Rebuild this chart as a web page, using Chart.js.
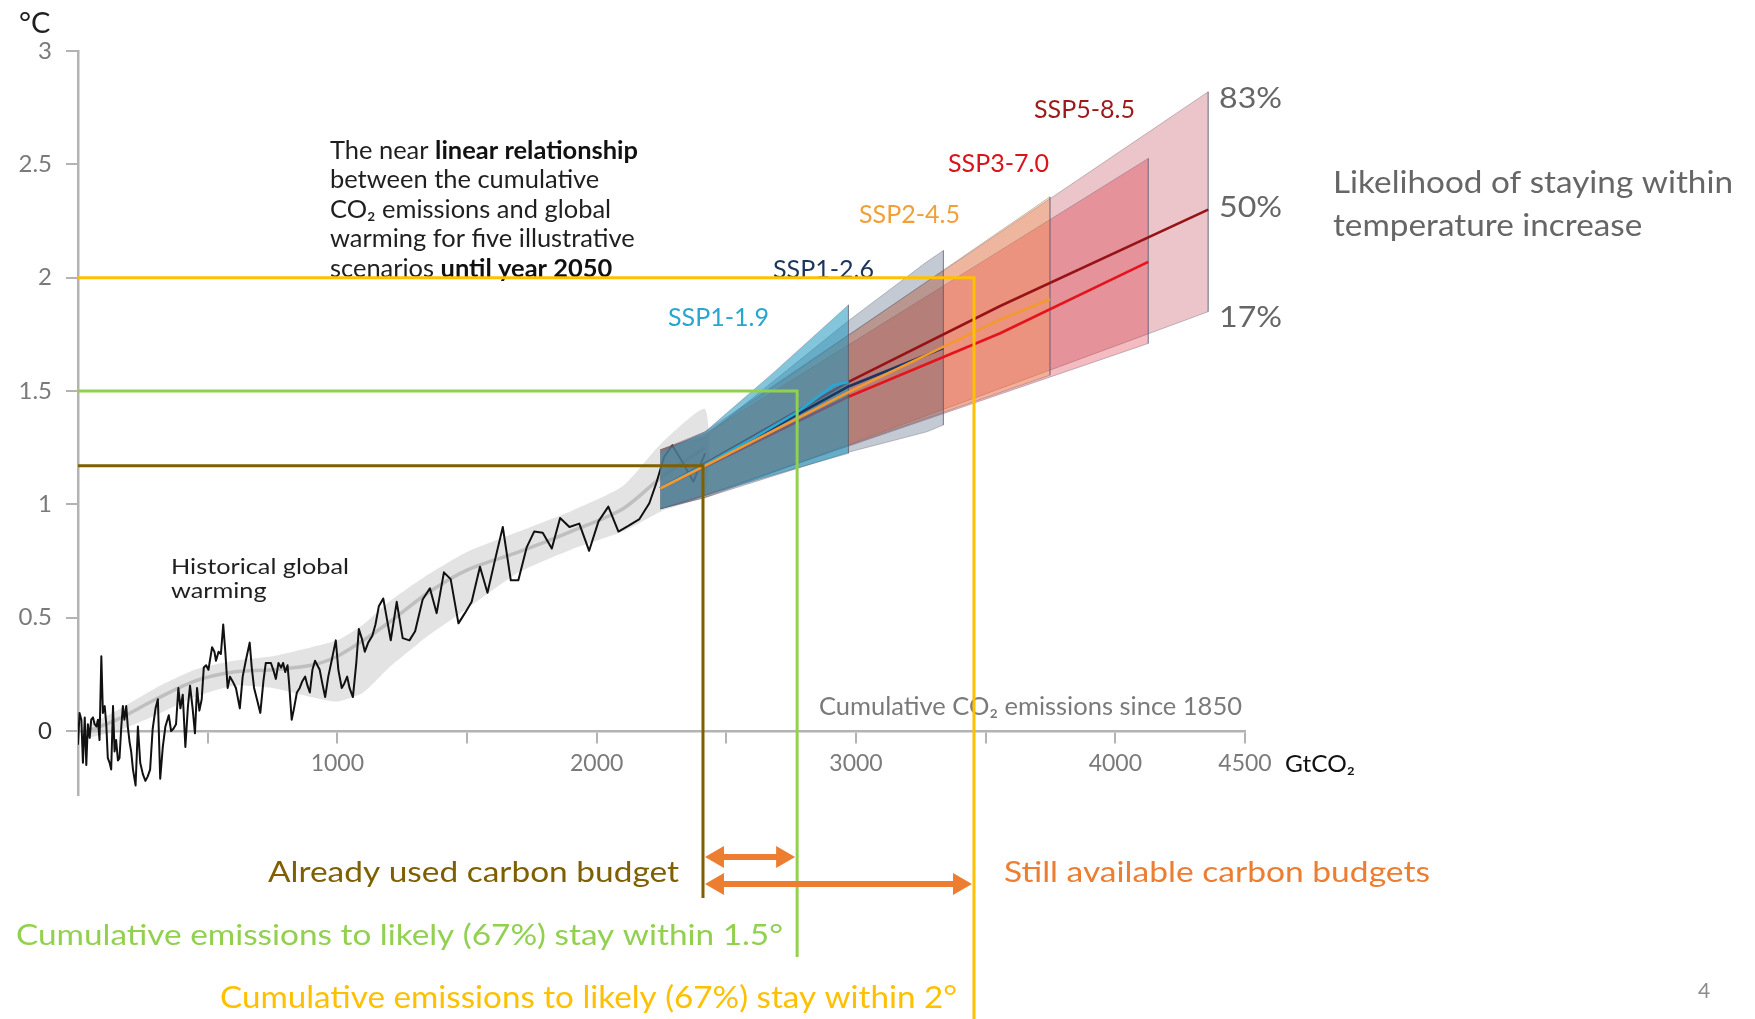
<!DOCTYPE html>
<html>
<head>
<meta charset="utf-8">
<script src="https://cdn.jsdelivr.net/npm/chart.js@4.4.1/dist/chart.umd.min.js"></script>
<style>
  html, body { margin: 0; padding: 0; background: #fff; }
  canvas { display: block; }
</style>
</head>
<body>
<canvas id="chart" width="1755" height="1019" style="width:1755px;height:1019px"></canvas>
<script>
// ---- Data -------------------------------------------------------------

// Observed global warming (°C) against cumulative CO2 emissions since 1850 (GtCO2)
const histEmissions = [0,6,13,19,26,32,38,45,51,58,64,71,77,83,90,96,103,109,115,122,128,135,141,147,154,160,167,173,179,186,192,199,205,212,222,231,240,250,260,269,278,288,299,308,317,327,337,350,359,368,378,387,395,404,414,424,432,442,451,459,468,477,485,494,503,517,526,532,542,551,560,568,577,586,596,609,624,635,647,662,670,679,690,703,715,724,735,744,753,763,773,783,791,799,808,814,824,833,844,855,865,876,885,894,904,914,923,932,942,953,965,978,994,1004,1017,1027,1038,1047,1060,1073,1083,1094,1106,1119,1135,1147,1160,1177,1206,1229,1252,1278,1300,1329,1357,1383,1411,1437,1467,1492,1518,1550,1579,1608,1638,1669,1698,1730,1759,1792,1827,1859,1895,1933,1971,2007,2045,2084,2122,2165,2203,2229,2260,2292,2334,2373,2418];
const histWarming = [-0.06,0.08,0.05,-0.14,0.06,-0.15,0.03,-0.03,0.05,0.06,0.03,0.02,0.05,-0.04,0.33,0.08,0.11,0.03,-0.12,-0.14,-0.17,0.11,-0.09,-0.04,-0.13,-0.12,0.02,0.11,0.05,0.11,0.02,-0.05,-0.09,-0.17,-0.24,0.02,-0.14,-0.19,-0.22,-0.20,-0.17,0.01,0.10,0.14,-0.21,-0.07,0.02,0.07,0.00,0.01,0.03,0.19,0.10,0.16,-0.07,0.11,0.20,0.10,-0.01,0.19,0.09,0.14,0.28,0.29,0.27,0.37,0.35,0.31,0.35,0.34,0.47,0.35,0.19,0.24,0.22,0.19,0.10,0.24,0.31,0.39,0.28,0.19,0.14,0.08,0.22,0.30,0.30,0.30,0.27,0.23,0.30,0.28,0.30,0.26,0.29,0.21,0.05,0.10,0.17,0.19,0.22,0.24,0.20,0.17,0.27,0.31,0.29,0.27,0.21,0.15,0.24,0.31,0.40,0.27,0.19,0.21,0.24,0.19,0.15,0.30,0.45,0.41,0.35,0.39,0.42,0.47,0.55,0.585,0.40,0.57,0.41,0.40,0.44,0.58,0.63,0.52,0.70,0.67,0.475,0.52,0.57,0.725,0.61,0.755,0.90,0.665,0.665,0.81,0.88,0.875,0.805,0.94,0.90,0.915,0.795,0.925,0.99,0.88,0.905,0.935,1.005,1.09,1.21,1.26,1.18,1.10,1.225];

// Smoothed historical estimate with its likely range
const histBandEmissions = [40,150,300,450,600,750,900,1000,1100,1200,1350,1500,1700,1900,2100,2250,2418];
const histBandHigh = [0.03,0.09,0.19,0.27,0.31,0.33,0.37,0.40,0.47,0.57,0.69,0.79,0.88,0.97,1.08,1.27,1.42];
const histBandMid  = [0.00,0.05,0.14,0.22,0.26,0.27,0.29,0.33,0.40,0.48,0.61,0.71,0.79,0.88,0.98,1.12,1.25];
const histBandLow  = [-0.03,0.00,0.07,0.15,0.20,0.19,0.15,0.13,0.17,0.28,0.42,0.54,0.70,0.80,0.88,0.97,1.05];

// Illustrative scenarios until 2050: 17–83 % range and median
const scenarioNames = ['SSP1-1.9', 'SSP1-2.6', 'SSP2-4.5', 'SSP3-7.0', 'SSP5-8.5'];

const ssp119Emissions = [2245, 2418, 2681, 2971];
const ssp119High = [1.23, 1.32, 1.58, 1.88];
const ssp119Low  = [0.98, 1.04, 1.13, 1.225];
const ssp119MedEmissions = [2245, 2418, 2600, 2765, 2913, 2971];
const ssp119Median = [1.07, 1.175, 1.29, 1.40, 1.525, 1.54];

const ssp126Emissions = [2245, 2418, 2971, 3273, 3337];
const ssp126High = [1.24, 1.30, 1.81, 2.07, 2.12];
const ssp126Low  = [0.98, 1.03, 1.23, 1.32, 1.35];
const ssp126MedEmissions = [2245, 2418, 2700, 2971, 3337];
const ssp126Median = [1.07, 1.175, 1.35, 1.52, 1.69];

const ssp245Emissions = [2245, 2418, 3748];
const ssp245High = [1.24, 1.31, 2.357];
const ssp245Low  = [0.98, 1.04, 1.57];
const ssp245MedEmissions = [2245, 2418, 2971, 3556, 3748];
const ssp245Median = [1.07, 1.17, 1.495, 1.815, 1.905];

const ssp370Emissions = [2245, 2418, 4127];
const ssp370High = [1.24, 1.31, 2.526];
const ssp370Low  = [0.98, 1.04, 1.71];
const ssp370MedEmissions = [2245, 2418, 2971, 3556, 4127];
const ssp370Median = [1.07, 1.165, 1.475, 1.755, 2.07];

const ssp585Emissions = [2245, 2418, 4358];
const ssp585High = [1.24, 1.32, 2.82];
const ssp585Low  = [0.98, 1.03, 1.85];
const ssp585MedEmissions = [2245, 2418, 2971, 3556, 4358];
const ssp585Median = [1.07, 1.18, 1.54, 1.875, 2.30];

// Carbon budgets: already used (now), 1.5 °C and 2 °C (67 % likelihood)
const budgetNames = ['Already used carbon budget',
                     'Cumulative emissions to likely (67%) stay within 1.5°',
                     'Cumulative emissions to likely (67%) stay within 2°'];
const budgetWarming = [1.17, 1.5, 2.0];
const budgetEmissions = [2410, 2773, 3455];

const likelihoodLabels = ['83%', '50%', '17%'];

// Axis ticks
const xTickValues = [0, 500, 1000, 1500, 2000, 2500, 3000, 3500, 4000, 4500];
const xTickLabels = [1000, 2000, 3000, 4000, 4500];
const yTicks = [0, 0.5, 1, 1.5, 2, 2.5, 3];
const yMin = -0.28, yMax = 3;

// ---- Styles -----------------------------------------------------------
const FONT = 'Lato, "Open Sans", sans-serif';
const C = {
  brown: '#7f6000', green: '#92d050', yellow: '#ffc000', orange: '#ed7d31',
  axis: '#b3b3b3', tick: '#7a7a7a', grey: '#666666'
};
const scenarioStyle = {
  'SSP1-1.9': { fill: 'rgba(30,150,190,0.55)', line: '#27a9d6', label: '#27a6cf' },
  'SSP1-2.6': { fill: 'rgba(60,80,110,0.30)',  line: '#1b3562', label: '#1b355d' },
  'SSP2-4.5': { fill: 'rgba(250,150,60,0.30)', line: '#f39a2e', label: '#f0a035' },
  'SSP3-7.0': { fill: 'rgba(220,30,45,0.30)',  line: '#e3141c', label: '#d8141c' },
  'SSP5-8.5': { fill: 'rgba(180,40,60,0.27)',  line: '#961418', label: '#9e1a1a' }
};
const bandEdge = 'rgba(90,90,110,0.35)';

// ---- Helpers ----------------------------------------------------------
const toPoints = (xs, ys) => xs.map((x, i) => ({ x, y: ys[i] }));
const polygon = (xs, hi, lo) => toPoints(xs, hi).concat(toPoints(xs, lo).reverse());

function band(name, xs, hi, lo, order) {
  return { label: name + ' range', data: polygon(xs, hi, lo), fill: 'shape',
           backgroundColor: scenarioStyle[name].fill, borderColor: bandEdge,
           borderWidth: 1, order };
}
function median(name, xs, ys, order) {
  return { label: name, data: toPoints(xs, ys), fill: false,
           borderColor: scenarioStyle[name].line, borderWidth: 2.6, order };
}

// Draws text runs (regular/bold) and optionally squeezes them to a width
function drawRuns(ctx, runs, x, baseline, o) {
  ctx.save();
  let total = 0;
  const widths = runs.map(([t, w]) => {
    ctx.font = `${w || 400} ${o.size}px ${FONT}`;
    const m = ctx.measureText(t).width;
    total += m;
    return m;
  });
  const sx = o.width ? o.width / total : (o.sx || 1);
  const left = o.align === 'right' ? x - total * sx : x;
  ctx.translate(left, baseline);
  ctx.scale(sx, 1);
  ctx.textBaseline = 'alphabetic';
  ctx.textAlign = 'left';
  let cx = 0;
  runs.forEach(([t, w, col], i) => {
    ctx.font = `${w || 400} ${o.size}px ${FONT}`;
    ctx.fillStyle = col || o.color;
    ctx.fillText(t, cx, 0);
    cx += widths[i];
  });
  ctx.restore();
  return sx;
}

function doubleArrow(ctx, xa, xb, y) {
  const head = 19, half = 11;
  ctx.save();
  ctx.strokeStyle = C.orange; ctx.fillStyle = C.orange;
  ctx.lineWidth = 6; ctx.lineCap = 'butt';
  ctx.beginPath(); ctx.moveTo(xa + head - 2, y); ctx.lineTo(xb - head + 2, y); ctx.stroke();
  ctx.beginPath(); ctx.moveTo(xa, y); ctx.lineTo(xa + head, y - half); ctx.lineTo(xa + head, y + half); ctx.closePath(); ctx.fill();
  ctx.beginPath(); ctx.moveTo(xb, y); ctx.lineTo(xb - head, y - half); ctx.lineTo(xb - head, y + half); ctx.closePath(); ctx.fill();
  ctx.restore();
}

// ---- Annotation layer ---------------------------------------------------
const annotations = {
  id: 'annotations',
  beforeDraw(chart) {
    const ctx = chart.ctx;
    ctx.save(); ctx.fillStyle = '#fff'; ctx.fillRect(0, 0, chart.width, chart.height); ctx.restore();
  },
  afterDatasetsDraw(chart) {
    const ctx = chart.ctx, xs = chart.scales.x, ys = chart.scales.y;
    const ink = '#1f1f1f';

    // unit of the vertical axis
    drawRuns(ctx, [['°C']], 19, 33, { size: 29, color: ink });

    // explanatory paragraph
    const para = [
      [['The near '], ['linear relationship', 700, '#111']],
      [['between the cumulative']],
      [['CO₂ emissions and global']],
      [['warming for five illustrative']],
      [['scenarios '], ['until year 2050', 700, '#111']]
    ];
    let sx = drawRuns(ctx, para[0], 330, 159, { size: 25, color: ink, width: 308 });
    para.slice(1).forEach((runs, i) => drawRuns(ctx, runs, 330, 159 + 29.4 * (i + 1), { size: 25, color: ink, sx }));

    // historical label
    sx = drawRuns(ctx, [['Historical global']], 171, 574, { size: 22, color: ink, width: 178 });
    drawRuns(ctx, [['warming']], 171, 598, { size: 22, color: ink, sx });

    // scenario names
    const sspPos = [[668, 326], [773, 278], [859, 223], [948, 172], [1034, 118]];
    scenarioNames.forEach((n, i) =>
      drawRuns(ctx, [[n]], sspPos[i][0], sspPos[i][1], { size: 25, color: scenarioStyle[n].label, width: 101 }));

    // likelihood percentages
    sx = drawRuns(ctx, [[likelihoodLabels[0]]], 1219, 108, { size: 29, color: C.grey, width: 63 });
    drawRuns(ctx, [[likelihoodLabels[1]]], 1219, 217, { size: 29, color: C.grey, sx });
    drawRuns(ctx, [[likelihoodLabels[2]]], 1219, 327, { size: 29, color: C.grey, sx });
    sx = drawRuns(ctx, [['Likelihood of staying within']], 1333, 193, { size: 30, color: C.grey, width: 400 });
    drawRuns(ctx, [['temperature increase']], 1333, 236, { size: 30, color: C.grey, sx });

    // axis title
    drawRuns(ctx, [['Cumulative CO₂ emissions since 1850']], 819, 715, { size: 25, color: '#7a7a7a', width: 423 });
    drawRuns(ctx, [['GtCO₂']], 1285, 772, { size: 23, color: '#111', width: 70 });

    // budget texts
    drawRuns(ctx, [[budgetNames[0]]], 679, 882, { size: 29, color: C.brown, width: 411, align: 'right' });
    drawRuns(ctx, [['Still available carbon budgets']], 1004, 882, { size: 29, color: C.orange, width: 426 });
    drawRuns(ctx, [[budgetNames[1]]], 16, 945, { size: 29, color: C.green, width: 767 });
    drawRuns(ctx, [[budgetNames[2]]], 220, 1008, { size: 30, color: C.yellow, width: 737 });

    // page number
    drawRuns(ctx, [['4']], 1698, 998, { size: 21, color: '#8c8c8c' });

    // budget guide lines: from the axis to the budget, then down to its caption
    const x0 = xs.getPixelForValue(0);
    const colors = [C.brown, C.green, C.yellow];
    const lineEnds = [898, 957, 1019];
    const px = budgetEmissions.map(v => xs.getPixelForValue(v));
    ctx.save();
    ctx.lineJoin = 'miter'; ctx.lineCap = 'butt';
    budgetWarming.forEach((w, i) => {
      const py = ys.getPixelForValue(w);
      ctx.strokeStyle = colors[i];
      ctx.lineWidth = 3;
      ctx.beginPath(); ctx.moveTo(x0, py); ctx.lineTo(px[i], py); ctx.lineTo(px[i], lineEnds[i]); ctx.stroke();
    });
    ctx.restore();

    // remaining budgets
    doubleArrow(ctx, px[0] + 2, px[1] - 2, 857);
    doubleArrow(ctx, px[0] + 2, px[2] - 2, 884);
  }
};

// ---- Chart ------------------------------------------------------------
const datasets = [
  { label: 'likely range', data: polygon(histBandEmissions, histBandHigh, histBandLow), fill: 'shape',
    backgroundColor: 'rgba(200,200,200,0.5)', borderWidth: 0, tension: 0.2, order: 100 },
  { label: 'smoothed', data: toPoints(histBandEmissions, histBandMid), fill: false,
    borderColor: 'rgba(185,185,185,0.85)', borderWidth: 3.5, tension: 0.3, order: 99 },
  { label: 'observed', data: toPoints(histEmissions, histWarming), fill: false,
    borderColor: '#111', borderWidth: 2, order: 98 },
  band('SSP5-8.5', ssp585Emissions, ssp585High, ssp585Low, 90),
  band('SSP3-7.0', ssp370Emissions, ssp370High, ssp370Low, 89),
  band('SSP2-4.5', ssp245Emissions, ssp245High, ssp245Low, 88),
  band('SSP1-2.6', ssp126Emissions, ssp126High, ssp126Low, 87),
  median('SSP5-8.5', ssp585MedEmissions, ssp585Median, 86),
  median('SSP3-7.0', ssp370MedEmissions, ssp370Median, 85),
  band('SSP1-1.9', ssp119Emissions, ssp119High, ssp119Low, 84),
  median('SSP1-2.6', ssp126MedEmissions, ssp126Median, 83),
  median('SSP1-1.9', ssp119MedEmissions, ssp119Median, 82),
  median('SSP2-4.5', ssp245MedEmissions, ssp245Median, 81)
];

new Chart(document.getElementById('chart'), {
  type: 'line',
  data: { datasets },
  options: {
    responsive: false,
    animation: false,
    devicePixelRatio: 1,
    layout: { padding: { left: 0, top: 51, right: 510, bottom: 224.5 } },
    plugins: { legend: { display: false }, tooltip: { enabled: false } },
    elements: {
      point: { radius: 0, hoverRadius: 0 },
      line: { tension: 0, borderJoinStyle: 'round' }
    },
    scales: {
      x: {
        type: 'linear', min: 0, max: 4500, position: { y: 0 },
        afterBuildTicks: s => { s.ticks = xTickValues.map(v => ({ value: v })); },
        grid: { drawOnChartArea: false, drawTicks: true, tickLength: 11, color: C.axis, lineWidth: 2 },
        border: { display: true, color: C.axis, width: 2.5 },
        ticks: {
          autoSkip: false, maxRotation: 0, padding: 8, color: C.tick,
          font: { family: FONT, size: 23 },
          callback: v => xTickLabels.includes(v) ? String(v) : ''
        }
      },
      y: {
        type: 'linear', min: yMin, max: yMax, position: 'left',
        afterFit: s => { s.width = 78; },
        afterBuildTicks: s => { s.ticks = yTicks.map(v => ({ value: v })); },
        grid: { drawOnChartArea: false, drawTicks: true, tickLength: 12, color: C.axis, lineWidth: 2 },
        border: { display: true, color: C.axis, width: 2.5 },
        ticks: {
          padding: 14,
          color: c => c.tick && c.tick.value === 0 ? '#333' : C.tick,
          font: { family: FONT, size: 24 },
          callback: v => String(v)
        }
      }
    }
  },
  plugins: [annotations]
});
</script>
</body>
</html>
